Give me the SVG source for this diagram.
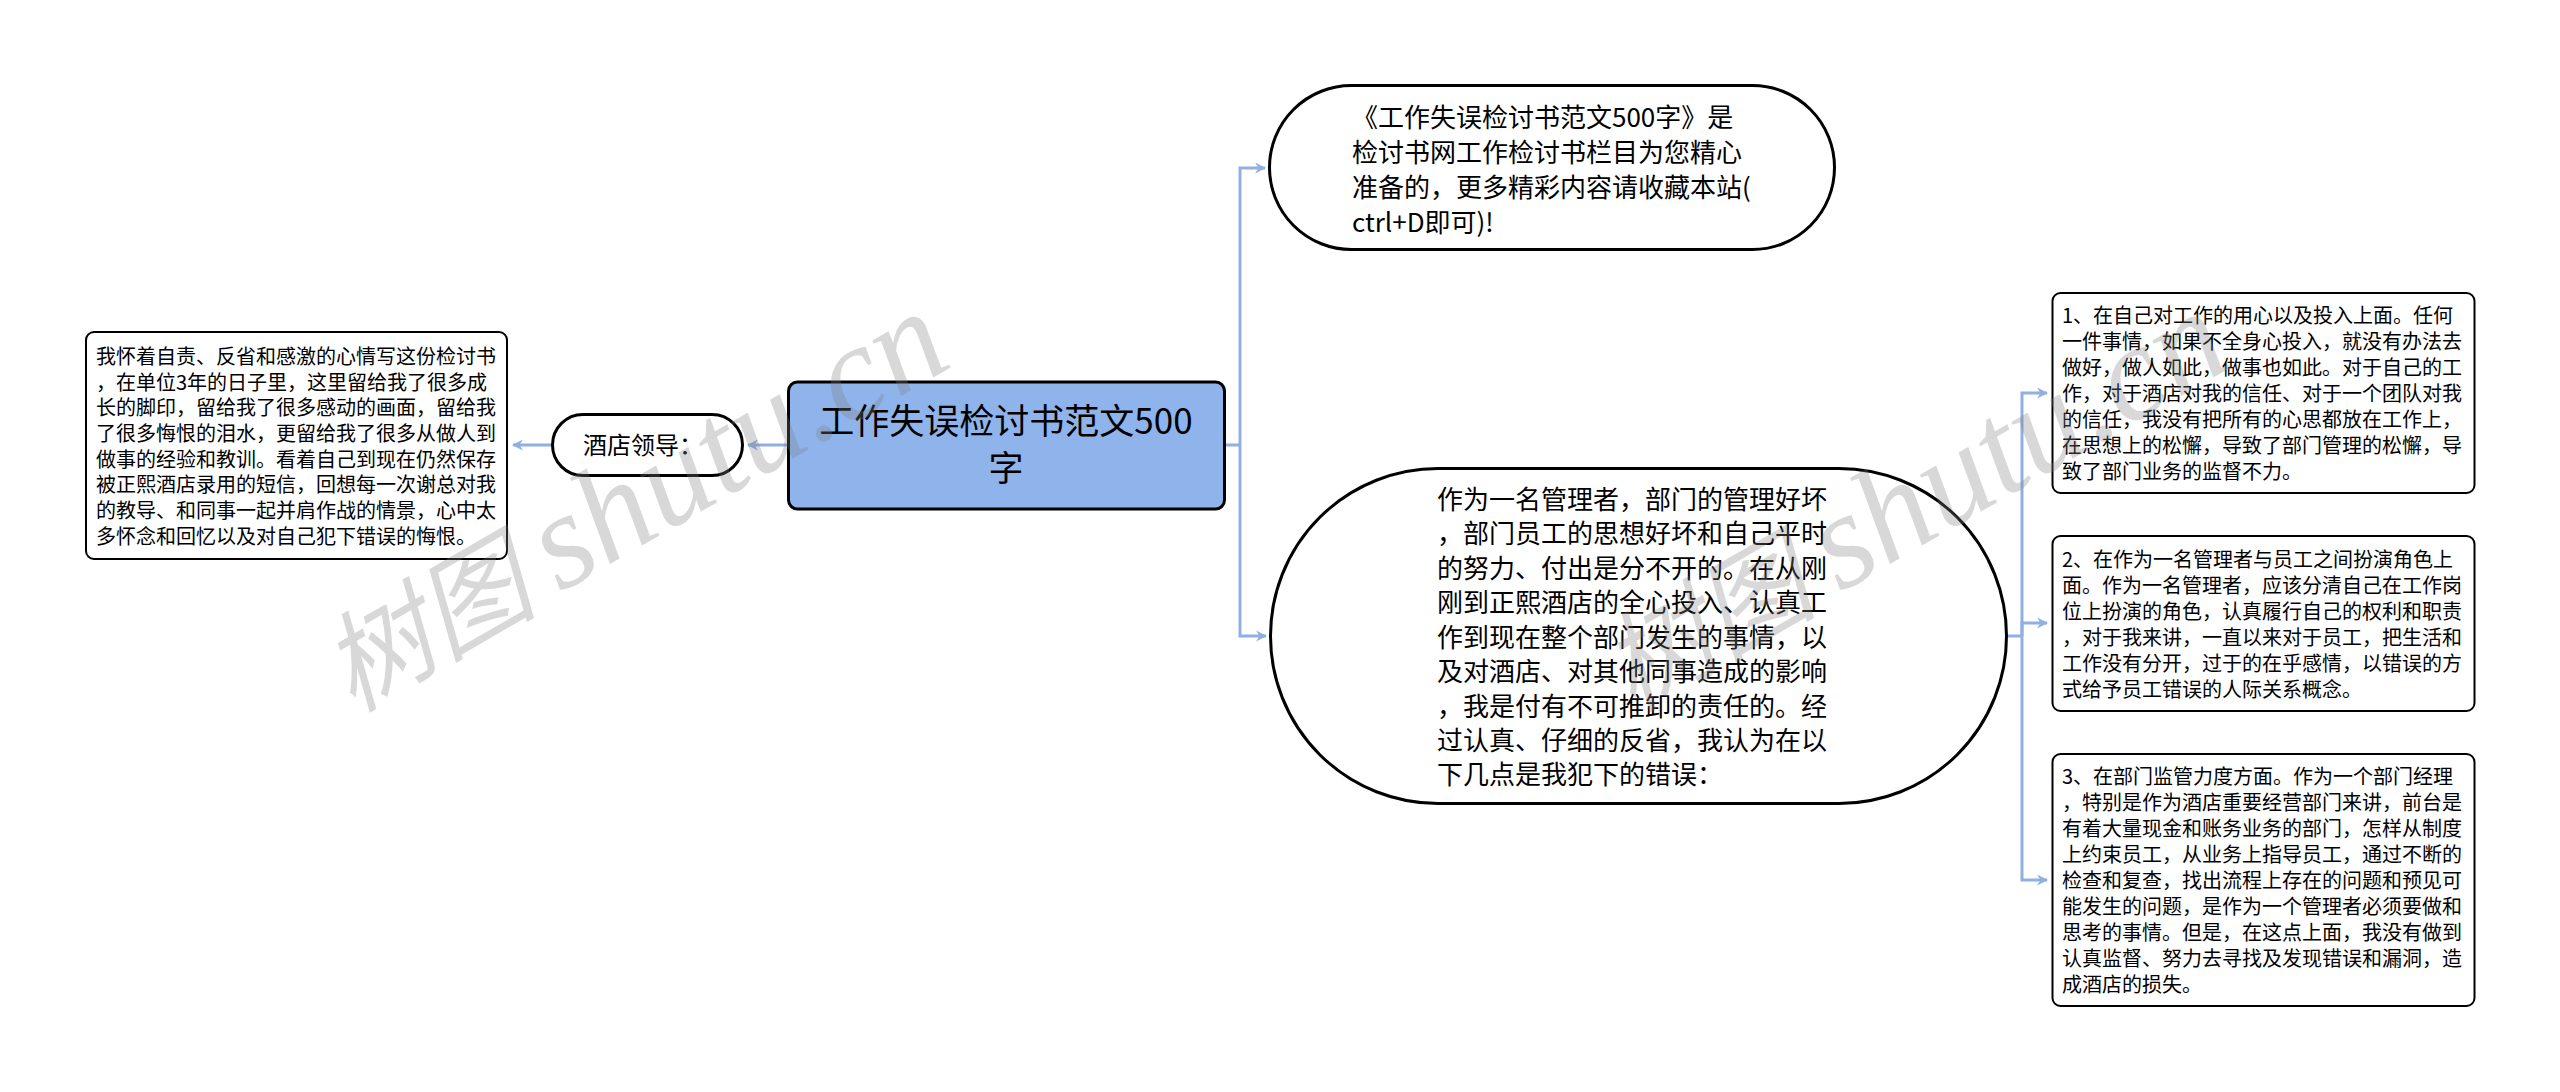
<svg xmlns="http://www.w3.org/2000/svg" width="2560" height="1092" viewBox="0 0 2560 1092">
<style>
text{font-family:"Noto Sans CJK SC","Microsoft YaHei",sans-serif;fill:#000}
.n{fill:#fff;stroke:#000;stroke-width:3}
.b{fill:#fff;stroke:#000;stroke-width:2}
.t20{font-size:20px}
.t26{font-size:26px}
.c{fill:none;stroke:#8fb0e0;stroke-width:3}
.wm{font-family:"Liberation Serif","Noto Sans CJK SC",serif;font-style:italic;font-size:136px;fill:#808080;opacity:.3}
.wm .cjk{font-size:108px}
</style>
<defs>
<marker id="a" viewBox="0 0 10 10" refX="9" refY="5" markerWidth="11" markerHeight="11" markerUnits="userSpaceOnUse" orient="auto"><path d="M0 0L10 5L0 10L3 5Z" fill="#8fb0e0"/></marker>
</defs>
<rect width="2560" height="1092" fill="#fff"/>
<g id="connectors">
<path class="c" marker-end="url(#a)" d="M788 445H748"/>
<path class="c" marker-end="url(#a)" d="M552 445H513"/>
<path class="c" d="M1224 445H1240"/>
<path class="c" marker-end="url(#a)" d="M1240 445V168H1265"/>
<path class="c" marker-end="url(#a)" d="M1240 445V636H1266"/>
<path class="c" d="M2007 636H2022"/>
<path class="c" marker-end="url(#a)" d="M2022 636V393H2047"/>
<path class="c" marker-end="url(#a)" d="M2022 636V623H2047"/>
<path class="c" marker-end="url(#a)" d="M2022 636V880H2047"/>
</g>
<g id="root">
<rect x="788.500" y="382" width="436" height="127" rx="9" fill="#8fb3eb" stroke="#000" stroke-width="3"/>
<text x="1006" y="434" font-size="35" text-anchor="middle">工作失误检讨书范文500</text>
<text x="1006" y="481" font-size="35" text-anchor="middle">字</text>
</g>
<g id="leader">
<rect class="n" x="552.500" y="414.500" width="190" height="61" rx="30.500"/>
<text x="583" y="454" font-size="24">酒店领导：</text>
</g>
<g id="leader-detail">
<rect class="b" x="86" y="332" width="421" height="227" rx="8"/>
<g class="t20">
<text x="96" y="364">我怀着自责、反省和感激的心情写这份检讨书</text>
<text x="96" y="390">，在单位3年的日子里，这里留给我了很多成</text>
<text x="96" y="415">长的脚印，留给我了很多感动的画面，留给我</text>
<text x="96" y="441">了很多悔恨的泪水，更留给我了很多从做人到</text>
<text x="96" y="467">做事的经验和教训。看着自己到现在仍然保存</text>
<text x="96" y="492">被正熙酒店录用的短信，回想每一次谢总对我</text>
<text x="96" y="518">的教导、和同事一起并肩作战的情景，心中太</text>
<text x="96" y="544">多怀念和回忆以及对自己犯下错误的悔恨。</text>
</g>
</g>
<g id="intro">
<rect class="n" x="1269.500" y="85.500" width="565" height="164" rx="82"/>
<g class="t26">
<text x="1352" y="127">《工作失误检讨书范文500字》是</text>
<text x="1352" y="162">检讨书网工作检讨书栏目为您精心</text>
<text x="1352" y="197">准备的，更多精彩内容请收藏本站(</text>
<text x="1352" y="232">ctrl+D即可)!</text>
</g>
</g>
<g id="manager">
<rect class="n" x="1270.500" y="468.500" width="736" height="335" rx="167.500"/>
<g class="t26">
<text x="1437" y="509">作为一名管理者，部门的管理好坏</text>
<text x="1437" y="543">，部门员工的思想好坏和自己平时</text>
<text x="1437" y="578">的努力、付出是分不开的。在从刚</text>
<text x="1437" y="612">刚到正熙酒店的全心投入、认真工</text>
<text x="1437" y="647">作到现在整个部门发生的事情，以</text>
<text x="1437" y="681">及对酒店、对其他同事造成的影响</text>
<text x="1437" y="716">，我是付有不可推卸的责任的。经</text>
<text x="1437" y="750">过认真、仔细的反省，我认为在以</text>
<text x="1437" y="784">下几点是我犯下的错误：</text>
</g>
</g>
<g id="point-1">
<rect class="b" x="2052.500" y="293" width="422" height="200" rx="8"/>
<g class="t20">
<text x="2062" y="323">1、在自己对工作的用心以及投入上面。任何</text>
<text x="2062" y="349">一件事情，如果不全身心投入，就没有办法去</text>
<text x="2062" y="375">做好，做人如此，做事也如此。对于自己的工</text>
<text x="2062" y="401">作，对于酒店对我的信任、对于一个团队对我</text>
<text x="2062" y="427">的信任，我没有把所有的心思都放在工作上，</text>
<text x="2062" y="453">在思想上的松懈，导致了部门管理的松懈，导</text>
<text x="2062" y="479">致了部门业务的监督不力。</text>
</g>
</g>
<g id="point-2">
<rect class="b" x="2052.500" y="536" width="422" height="175" rx="8"/>
<g class="t20">
<text x="2062" y="567">2、在作为一名管理者与员工之间扮演角色上</text>
<text x="2062" y="593">面。作为一名管理者，应该分清自己在工作岗</text>
<text x="2062" y="619">位上扮演的角色，认真履行自己的权利和职责</text>
<text x="2062" y="645">，对于我来讲，一直以来对于员工，把生活和</text>
<text x="2062" y="671">工作没有分开，过于的在乎感情，以错误的方</text>
<text x="2062" y="697">式给予员工错误的人际关系概念。</text>
</g>
</g>
<g id="point-3">
<rect class="b" x="2052.500" y="754" width="422" height="252" rx="8"/>
<g class="t20">
<text x="2062" y="784">3、在部门监管力度方面。作为一个部门经理</text>
<text x="2062" y="810">，特别是作为酒店重要经营部门来讲，前台是</text>
<text x="2062" y="836">有着大量现金和账务业务的部门，怎样从制度</text>
<text x="2062" y="862">上约束员工，从业务上指导员工，通过不断的</text>
<text x="2062" y="888">检查和复查，找出流程上存在的问题和预见可</text>
<text x="2062" y="914">能发生的问题，是作为一个管理者必须要做和</text>
<text x="2062" y="940">思考的事情。但是，在这点上面，我没有做到</text>
<text x="2062" y="966">认真监督、努力去寻找及发现错误和漏洞，造</text>
<text x="2062" y="992">成酒店的损失。</text>
</g>
</g>
<text class="wm" transform="translate(560 593) rotate(-30)"><tspan class="cjk" x="-240" y="0">树图 </tspan><tspan x="0" y="0">shutu.cn</tspan></text>
<text class="wm" transform="translate(1840 593) rotate(-30)"><tspan class="cjk" x="-240" y="0">树图 </tspan><tspan x="0" y="0">shutu.cn</tspan></text>
</svg>
